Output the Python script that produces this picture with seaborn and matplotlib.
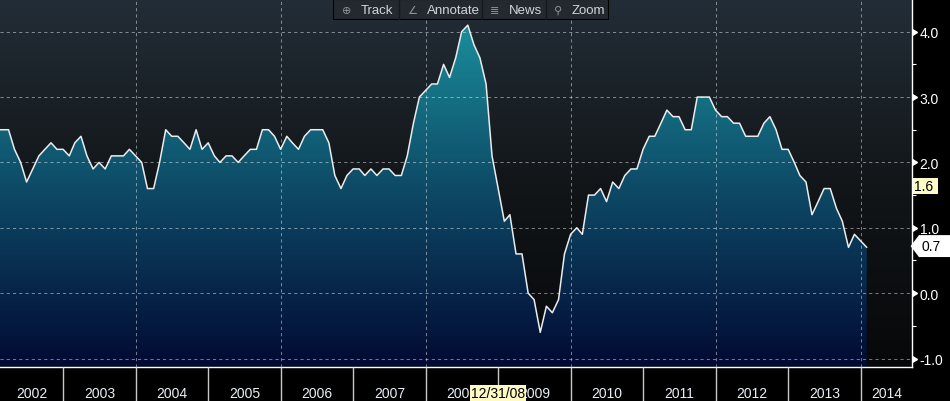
import numpy as np
import pandas as pd
import matplotlib
matplotlib.use("Agg")
import matplotlib.pyplot as plt
import matplotlib.dates as mdates
from matplotlib.colors import LinearSegmentedColormap
from matplotlib.patches import Rectangle
from matplotlib.path import Path
import seaborn as sns

# monthly readings, Jan 2002 .. Jan 2014 (month end)
dates = pd.date_range("2002-01-31", periods=145, freq="ME")
values = [
    2.5,
    2.5, 2.5, 2.2, 2.0, 1.7, 1.9, 2.1, 2.2, 2.3, 2.2, 2.2,               # 2002
    2.1, 2.3, 2.4, 2.1, 1.9, 2.0, 1.9, 2.1, 2.1, 2.1, 2.2, 2.1,          # 2003
    2.0, 1.6, 1.6, 2.0, 2.5, 2.4, 2.4, 2.3, 2.2, 2.5, 2.2, 2.3,          # 2004
    2.1, 2.0, 2.1, 2.1, 2.0, 2.1, 2.2, 2.2, 2.5, 2.5, 2.4, 2.2,          # 2005
    2.4, 2.3, 2.2, 2.4, 2.5, 2.5, 2.5, 2.3, 1.8, 1.6, 1.8, 1.9,          # 2006
    1.9, 1.8, 1.9, 1.8, 1.9, 1.9, 1.8, 1.8, 2.1, 2.6, 3.0, 3.1,          # 2007
    3.2, 3.2, 3.5, 3.3, 3.6, 4.0, 4.1, 3.8, 3.6, 3.2, 2.1, 1.6,          # 2008
    1.1, 1.2, 0.6, 0.6, 0.0, -0.1, -0.6, -0.2, -0.3, -0.1, 0.6, 0.9,     # 2009
    1.0, 0.9, 1.5, 1.5, 1.6, 1.4, 1.7, 1.6, 1.8, 1.9, 1.9, 2.2,          # 2010
    2.4, 2.4, 2.6, 2.8, 2.7, 2.7, 2.5, 2.5, 3.0, 3.0, 3.0, 2.8,          # 2011
    2.7, 2.7, 2.6, 2.6, 2.4, 2.4, 2.4, 2.6, 2.7, 2.5, 2.2, 2.2,          # 2012
    2.0, 1.8, 1.7, 1.2, 1.4, 1.6, 1.6, 1.3, 1.1, 0.7, 0.9, 0.8,          # 2013
    0.7,                                                                 # 2014
]
df = pd.DataFrame({"date": dates, "value": values})

years = list(range(2002, 2015))
yticks = [-1.0, 0.0, 1.0, 2.0, 3.0, 4.0]
ytick_labels = ["-1.0", "0.0", "1.0", "2.0", "3.0", "4.0"]
minor_yticks = [-0.5, 0.5, 1.5, 2.5, 3.5]
tag_other = 1.6
tag_last = values[-1]
cursor_date = pd.Timestamp("2008-12-31")

sns.set_style("dark")
plt.rcParams["font.family"] = ["Liberation Sans", "DejaVu Sans"]

W, H = 950, 402
fig = plt.figure(figsize=(W / 100, H / 100), dpi=100, facecolor="black")
ax = fig.add_axes([0, 34 / H, 912 / W, 368 / H])

x0, x1 = pd.Timestamp("2002-02-16"), pd.Timestamp("2014-09-16")
ymin, ymax = -1.13, 4.5

sns.lineplot(data=df, x="date", y="value", ax=ax, color="#ececec", linewidth=1.1, zorder=3)

# background and area gradients
bg_cmap = LinearSegmentedColormap.from_list("bg", ["#07080a", "#121619", "#232d37"])
fill_cmap = LinearSegmentedColormap.from_list("fill", ["#020a33", "#0e4c68", "#1c98a3"])
grad = np.linspace(0, 1, 256).reshape(-1, 1)
ax.imshow(grad, cmap=bg_cmap, extent=[0, 1, 0, 1], transform=ax.transAxes,
          origin="lower", aspect="auto", zorder=0)
xn0, xn1 = mdates.date2num(x0), mdates.date2num(x1)
im = ax.imshow(grad, cmap=fill_cmap, extent=[xn0, xn1, ymin, ymax],
               origin="lower", aspect="auto", zorder=1)
poly = ax.fill_between(df["date"], df["value"], ymin, facecolor="none", edgecolor="none")
im.set_clip_path(poly.get_paths()[0], transform=ax.transData)

ax.set_xlim(x0, x1)
ax.set_ylim(ymin, ymax)
ax.set_xlabel("")
ax.set_ylabel("")

# grid
ax.set_axisbelow("line")
ax.xaxis.set_major_locator(mdates.YearLocator(2))
ax.tick_params(axis="x", length=0, labelbottom=False)
ax.grid(True, which="major", color="white", alpha=0.45, linestyle=(0, (3, 3)), linewidth=0.75)

# right axis
ax.yaxis.tick_right()
ax.set_yticks(yticks)
ax.set_yticklabels(ytick_labels)
ax.set_yticks(minor_yticks, minor=True)
ax.tick_params(axis="y", which="major", length=0, pad=5.5, labelcolor="white", labelsize=10)
ax.tick_params(axis="y", which="minor", length=3, width=0.8, color="white", right=True, left=False)
ax.plot([1] * len(yticks), yticks, transform=ax.get_yaxis_transform(), marker=9,
        linestyle="none", markersize=5, color="white", clip_on=False, zorder=6)
for s in ["top", "left"]:
    ax.spines[s].set_visible(False)
for s in ["right", "bottom"]:
    ax.spines[s].set_color("white")
    ax.spines[s].set_linewidth(1)

ax.annotate(f"{tag_other:.1f} ", xy=(1, tag_other + 0.04), xycoords=ax.get_yaxis_transform(),
            xytext=(2, 0), textcoords="offset pixels", ha="left", va="center",
            fontsize=10, color="black", annotation_clip=False, zorder=7,
            bbox=dict(boxstyle="square,pad=0.08", fc="#fffcc8", ec="none"))


def tag_box(x0, y0, width, height, mutation_size):
    pad = mutation_size * 0.22
    x0, y0 = x0 - pad, y0 - pad * 1.3
    width, height = width + 2 * pad + 30, height + 2.6 * pad
    tip = height * 0.38
    return Path([(x0, y0), (x0 + width, y0), (x0 + width, y0 + height),
                 (x0, y0 + height), (x0 - tip, y0 + height / 2), (x0, y0)], closed=True)


ax.annotate(f"{tag_last:.1f}", xy=(1, tag_last + 0.02), xycoords=ax.get_yaxis_transform(),
            xytext=(10, 0), textcoords="offset pixels", ha="left", va="center",
            fontsize=10, color="black", annotation_clip=False, zorder=7,
            bbox=dict(boxstyle=tag_box, fc="white", ec="none"))

# bottom year band
axb = fig.add_axes([0, 0, 912 / W, 34 / H])
starts = [pd.Timestamp(f"{y}-01-01") for y in years]
axb.vlines(starts[1:], 0, 1, colors="#c8c8c8", linewidth=1)
for y in years:
    a = max(pd.Timestamp(f"{y}-01-01"), x0)
    b = min(pd.Timestamp(f"{y + 1}-01-01"), x1)
    axb.text(a + (b - a) / 2, 0.24, str(y), ha="center", va="center",
             fontsize=10, color="#eaf0f6")
axb.text(cursor_date, 0.24, cursor_date.strftime("%m/%d/%y"), ha="center", va="center",
         fontsize=10, color="black", zorder=5,
         bbox=dict(boxstyle="square,pad=0.05", fc="#fff9c4", ec="none"))
axb.set_xlim(x0, x1)
axb.set_ylim(0, 1)
axb.axis("off")

# toolbar
tb = fig.add_axes([333 / W, (H - 21) / H, 276 / W, 21 / H])
tb.set_xlim(0, 276)
tb.set_ylim(0, 21)
tb.axis("off")
tb.add_patch(Rectangle((0, 0), 276, 21, fc="#23292f", ec="black", lw=1.5))
for sx in [66, 149.3, 212.7]:
    tb.plot([sx, sx], [1, 20], color="#15191d", lw=1)
items = [("\u2295", 13.7, "Track", 27.7), ("\u2220", 78.7, "Annotate", 93.7),
         ("\u2263", 162, "News", 176.3), ("\u26b2", 225.3, "Zoom", 238.7)]
for icon, ix, label, lx in items:
    tb.text(ix, 10.3, icon, ha="center", va="center", fontsize=8, color="#8d959c",
            family=["DejaVu Sans"])
    tb.text(lx, 10.3, label, ha="left", va="center", fontsize=9.5, color="#d0d6dc")

fig.savefig("out.png", dpi=100, facecolor="black")
